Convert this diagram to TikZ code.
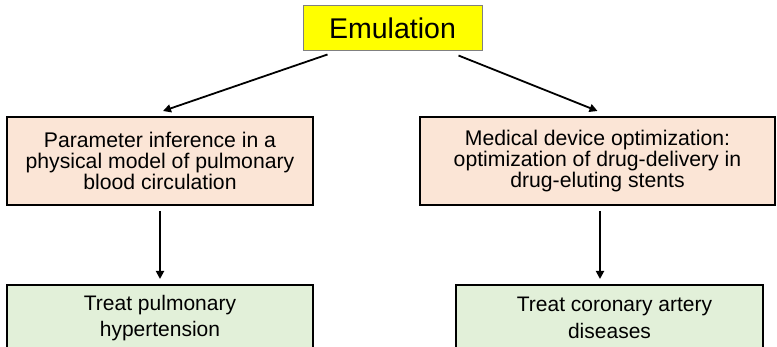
\documentclass[tikz,border=0pt]{standalone}
\usepackage{fontspec}
\setmainfont{Liberation Sans}
\usetikzlibrary{arrows.meta}
\definecolor{peach}{HTML}{FBE5D6}
\definecolor{lgreen}{HTML}{E2F0D9}
\definecolor{emuyellow}{HTML}{FFFF00}
\definecolor{emuborder}{HTML}{808080}
\tikzset{
  emubox/.style={draw=emuborder, line width=1pt, fill=emuyellow, minimum width=179pt, minimum height=45pt, inner sep=0pt, font=\fontsize{28.5}{30}\selectfont},
  peachbox/.style={draw=black, line width=2pt, fill=peach, minimum height=88pt, inner sep=0pt, align=center, font=\fontsize{21.2}{21.4}\selectfont},
  greenbox/.style={draw=black, line width=2pt, fill=lgreen, minimum height=66pt, inner sep=0pt, align=center, font=\fontsize{21}{26.7}\selectfont},
  conn/.style={draw=black, line width=1.8pt, -{Triangle[length=8pt,width=8pt]}}
}
\begin{document}
\begin{tikzpicture}[x=1pt,y=1pt]
\useasboundingbox (0,0) rectangle (777,347);
\clip (0,0) rectangle (777,347);
\node[emubox] (emu) at (392.5,318.5) {Emulation};
\node[peachbox, minimum width=306pt] (left) at (160,186) {Parameter inference in a\\physical model of pulmonary\\blood circulation};
\node[peachbox, minimum width=355pt] (right) at (597.5,186) {Medical device optimization:\\optimization of drug-delivery in\\drug-eluting stents};
\node[greenbox, minimum width=306pt] (leftg) at (160,29) {Treat pulmonary\\hypertension};
\node[greenbox, minimum width=307pt] (rightg) at (609.5,29) {\hspace*{10pt}Treat coronary artery\\diseases};
\draw[conn] ([xshift=25pt,yshift=-3pt]emu.south west) -- ([xshift=3pt,yshift=5pt]left.north);
\draw[conn] ([xshift=-24pt,yshift=-4pt]emu.south east) -- ([xshift=0pt,yshift=5pt]right.north);
\draw[conn] ([yshift=-5pt]left.south) -- ([yshift=5pt]leftg.north);
\draw[conn] ([xshift=2.5pt,yshift=-5pt]right.south) -- ([xshift=-9.5pt,yshift=5pt]rightg.north);
\end{tikzpicture}
\end{document}
